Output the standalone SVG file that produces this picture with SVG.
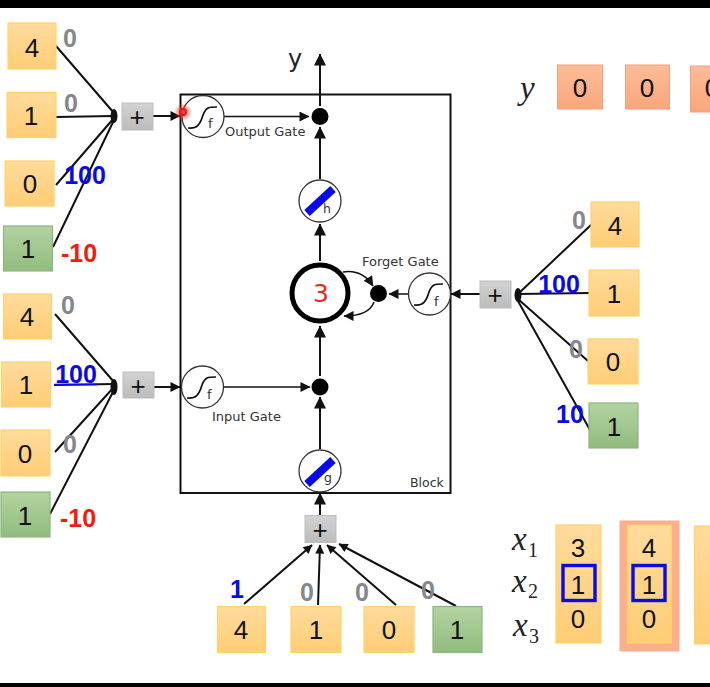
<svg xmlns="http://www.w3.org/2000/svg" width="710" height="687" viewBox="0 0 710 687">
<style>
text{font-family:"DejaVu Sans","Liberation Sans",sans-serif}
.o{fill:url(#og);stroke:#ffd466;stroke-width:1.2}
.gr{fill:url(#gg);stroke:#8fb57f;stroke-width:1.2}
.s{fill:url(#sg);stroke:#f2a27c;stroke-width:1}
.p{fill:url(#pg);stroke:#bdbdbd;stroke-width:1}
.n{font-family:"Liberation Sans",sans-serif;font-size:26px;fill:#111;text-anchor:middle}
.plus{font-family:"Liberation Sans",sans-serif;font-size:26px;fill:#111;text-anchor:middle}
.w{font-family:"Liberation Sans",sans-serif;font-size:25px;font-weight:bold;text-anchor:middle}
.g0{fill:#85878c}.b1{fill:#0a0ae6}.r1{fill:#f21c0c}
.l{stroke:#111;stroke-width:2;fill:none}
.t{stroke:#111;stroke-width:1.5;fill:none}
.c{fill:#fff;stroke:#333;stroke-width:1.3}
.sig{fill:none;stroke:#111;stroke-width:1.7}
.sm{font-size:12.5px;fill:#333}
.ft{font-size:13px;fill:#333}
.m{font-family:"Liberation Serif",serif;font-style:italic;font-size:33px;fill:#222}
.sub{font-family:"Liberation Serif",serif;font-size:20px;fill:#222}
.bb{fill:none;stroke:#0a0ae6;stroke-width:3.4}
.bar{stroke:#0a0ae6;stroke-width:8;fill:none}
</style>
<defs>
<linearGradient id="og" x1="0" y1="0" x2="0" y2="1"><stop offset="0" stop-color="#ffdb9c"/><stop offset="1" stop-color="#ffcd76"/></linearGradient>
<linearGradient id="gg" x1="0" y1="0" x2="0" y2="1"><stop offset="0" stop-color="#b3d3a0"/><stop offset="1" stop-color="#91bc7e"/></linearGradient>
<linearGradient id="sg" x1="0" y1="0" x2="0" y2="1"><stop offset="0" stop-color="#fdbc98"/><stop offset="1" stop-color="#f9a67c"/></linearGradient>
<linearGradient id="pg" x1="0" y1="0" x2="0" y2="1"><stop offset="0" stop-color="#d2d2d2"/><stop offset="1" stop-color="#bcbcbc"/></linearGradient>
<radialGradient id="glow"><stop offset="0.3" stop-color="#ff3a30" stop-opacity=".75"/><stop offset="1" stop-color="#ff3a30" stop-opacity="0"/></radialGradient>
<marker id="a" viewBox="0 0 10 10" refX="9.5" refY="5" markerWidth="14" markerHeight="10" markerUnits="userSpaceOnUse" orient="auto"><path d="M0 0L10 5L0 10z" fill="#111"/></marker>
<marker id="as" viewBox="0 0 10 10" refX="9.5" refY="5" markerWidth="11" markerHeight="9" markerUnits="userSpaceOnUse" orient="auto"><path d="M0 0L10 5L0 10z" fill="#111"/></marker>
<marker id="av" viewBox="0 0 10 10" refX="9.5" refY="5" markerWidth="14" markerHeight="12" markerUnits="userSpaceOnUse" orient="auto"><path d="M0 0L10 5L0 10z" fill="#111"/></marker>
<path id="sigma" d="M-15 11C-6 12 -3 8 0 -2C3 -10 6 -10 14 -10"/>
</defs>
<rect width="710" height="687" fill="#fff"/>
<rect width="710" height="8" fill="#000"/>
<rect y="683" width="710" height="4" fill="#000"/>

<g id="connectors">
<rect x="180.500" y="94.500" width="270" height="398.500" fill="none" stroke="#111" stroke-width="2"/>
<path class="l" d="M56 46L114 113M55 117L114 116M56 185L114 118M53 247L114 120"/>
<ellipse cx="114" cy="116" rx="3.500" ry="7" fill="#111"/>
<path class="l" marker-end="url(#a)" d="M153 116L180 116"/>
<path class="l" d="M55 314L114 382M54 385L114 384M55 452L114 387M50 514L114 390"/>
<ellipse cx="114" cy="387" rx="3.500" ry="8" fill="#111"/>
<path class="l" marker-end="url(#a)" d="M154 387L180 387"/>
<path class="l" d="M592 224L518 294M590 293L518 294M588 361L518 299M590 430L518 301"/>
<ellipse cx="518" cy="295" rx="3.500" ry="7" fill="#111"/>
<path class="l" marker-end="url(#a)" d="M480 294L451 294"/>
<path class="t" marker-end="url(#a)" d="M224 116.500L309 116.500"/>
<path class="t" marker-end="url(#a)" d="M224 387L310 387"/>
<path class="l" marker-end="url(#av)" d="M320 106L320 54"/>
<path class="l" marker-end="url(#av)" d="M320 179L320 127"/>
<path class="l" marker-end="url(#av)" d="M320 261L320 224"/>
<path class="l" marker-end="url(#av)" d="M320 376L320 326"/>
<path class="l" marker-end="url(#av)" d="M320 449L320 397"/>
<path class="l" marker-end="url(#av)" d="M320 515L320 493"/>
<path class="t" marker-end="url(#a)" d="M408 294L389 294"/>
<path class="t" marker-end="url(#a)" d="M343 272C356 270 366 275 373 286"/>
<path class="t" marker-end="url(#a)" d="M374 302C370 313 358 316 344 316"/>
<path class="l" marker-end="url(#as)" d="M244 604L312 545"/>
<path class="l" marker-end="url(#as)" d="M318 605L320 545"/>
<path class="l" marker-end="url(#as)" d="M396 605L327 545"/>
<path class="l" marker-end="url(#as)" d="M456 606L339 544"/>
</g>

<g id="block"><text x="410" y="487" class="ft" style="font-size:12.500px">Block</text></g>

<g id="in1a"><rect class="o" x="8" y="23" width="48" height="46"/><text class="n" x="32" y="57">4</text></g>
<g id="in1b"><rect class="o" x="7" y="92.500" width="49" height="45"/><text class="n" x="31" y="125">1</text></g>
<g id="in1c"><rect class="o" x="5" y="161" width="49" height="45"/><text class="n" x="30" y="193">0</text></g>
<g id="in1d"><rect class="gr" x="3.500" y="226" width="49" height="45"/><text class="n" x="28" y="258">1</text></g>
<text class="w g0" x="70" y="47">0</text><text class="w g0" x="71" y="112">0</text><text class="w b1" x="85" y="184">100</text><text class="w r1" x="79" y="262">-10</text>
<g id="sum1"><rect class="p" x="122" y="103" width="31" height="27"/><text class="plus" x="137" y="126">+</text></g>

<g id="in2a"><rect class="o" x="3.500" y="294" width="48" height="45"/><text class="n" x="27" y="326">4</text></g>
<g id="in2b"><rect class="o" x="1.500" y="362" width="49" height="45"/><text class="n" x="26" y="394">1</text></g>
<g id="in2c"><rect class="o" x="1" y="430" width="49" height="46"/><text class="n" x="25" y="463">0</text></g>
<g id="in2d"><rect class="gr" x="1" y="492" width="49" height="45"/><text class="n" x="25" y="525">1</text></g>
<text class="w g0" x="68" y="314">0</text><text class="w b1" x="76" y="383">100</text><path d="M54 384.500L97 384.500" stroke="#0a0ae6" stroke-width="1.500"/><text class="w g0" x="70" y="453">0</text><text class="w r1" x="78" y="527">-10</text>
<g id="sum2"><rect class="p" x="123" y="372" width="31" height="26"/><text class="plus" x="138" y="395">+</text></g>

<g id="in3a"><rect class="o" x="591" y="202" width="48" height="45"/><text class="n" x="615" y="235">4</text></g>
<g id="in3b"><rect class="o" x="589" y="270" width="50" height="46"/><text class="n" x="614" y="303">1</text></g>
<g id="in3c"><rect class="o" x="588" y="339" width="50" height="45"/><text class="n" x="613" y="371">0</text></g>
<g id="in3d"><rect class="gr" x="589" y="403" width="49" height="45"/><text class="n" x="614" y="436">1</text></g>
<text class="w g0" x="579" y="229">0</text><text class="w b1" x="559" y="293">100</text><text class="w g0" x="576" y="358">0</text><text class="w b1" x="570" y="423">10</text>
<g id="sum3"><rect class="p" x="480" y="281" width="31" height="27"/><text class="plus" x="495" y="304">+</text></g>

<g id="in4a"><rect class="o" x="217.500" y="606.500" width="48" height="46"/><text class="n" x="241" y="639">4</text></g>
<g id="in4b"><rect class="o" x="291" y="606.500" width="50" height="46"/><text class="n" x="316" y="639">1</text></g>
<g id="in4c"><rect class="o" x="364" y="606.500" width="50" height="46"/><text class="n" x="389" y="639">0</text></g>
<g id="in4d"><rect class="gr" x="433" y="606.500" width="49" height="46"/><text class="n" x="457" y="639">1</text></g>
<text class="w b1" x="237" y="598">1</text><text class="w g0" x="307" y="601">0</text><text class="w g0" x="362" y="601">0</text><text class="w g0" x="428" y="599">0</text>
<g id="sum4"><rect class="p" x="305" y="515.500" width="31" height="27"/><text class="plus" x="320" y="539">+</text></g>

<g id="output-activation"><circle class="c" cx="203" cy="116.500" r="21"/><use href="#sigma" class="sig" x="203" y="117"/><text class="sm" x="208" y="128" style="font-size:13px">f</text></g>
<circle cx="183" cy="112" r="9" fill="url(#glow)"/><circle cx="183" cy="112" r="3" fill="none" stroke="#f01010" stroke-width="1.800"/>
<g id="input-activation"><circle class="c" cx="202.500" cy="387" r="21"/><use href="#sigma" class="sig" x="202" y="387"/><text class="sm" x="207" y="399" style="font-size:13px">f</text></g>
<g id="forget-activation"><circle class="c" cx="429.500" cy="294" r="21"/><use href="#sigma" class="sig" x="429" y="294"/><text class="sm" x="434" y="306" style="font-size:13px">f</text></g>
<g id="output-junction"><circle cx="320" cy="116.500" r="8.500" fill="#000"/></g>
<g id="input-junction"><circle cx="320" cy="387" r="8.500" fill="#000"/></g>
<g id="forget-junction"><circle cx="378.500" cy="293.500" r="8.500" fill="#000"/></g>
<g id="h"><circle class="c" cx="320" cy="201" r="21"/><path class="bar" d="M307 213L333 189"/><text class="sm" x="323" y="213">h</text></g>
<g id="g"><circle class="c" cx="320" cy="471" r="21"/><path class="bar" d="M307 484L333 460"/><text class="sm" x="324" y="482">g</text></g>
<g id="cell"><circle cx="320" cy="293" r="28" fill="#fff" stroke="#000" stroke-width="5"/><text x="321" y="302" font-family="'Liberation Sans',sans-serif" font-size="25" fill="#f02818" text-anchor="middle">3</text></g>
<text class="ft" x="225" y="136">Output Gate</text>
<text class="ft" x="362" y="266">Forget Gate</text>
<text class="ft" x="212" y="421">Input Gate</text>
<text x="295" y="67" font-family="'DejaVu Sans',sans-serif" font-size="24" fill="#222" text-anchor="middle">y</text>

<text class="m" x="520" y="99">y</text>
<g id="y1"><rect class="s" x="557.500" y="65" width="45" height="44"/><text class="n" x="580" y="97">0</text></g>
<g id="y2"><rect class="s" x="625.500" y="65" width="44" height="44"/><text class="n" x="647" y="97">0</text></g>
<g id="y3"><rect class="s" x="690.500" y="66" width="30" height="46"/><text class="n" x="712" y="97">0</text></g>

<text class="m" x="512" y="550">x</text><text class="sub" x="528" y="557">1</text>
<text class="m" x="512" y="592">x</text><text class="sub" x="528" y="598">2</text>
<text class="m" x="513" y="636">x</text><text class="sub" x="529" y="643">3</text>
<g id="col1"><rect class="o" x="556" y="525" width="45" height="118"/><text class="n" x="578" y="557">3</text><text class="n" x="578" y="594">1</text><text class="n" x="578" y="628">0</text><rect class="bb" x="563" y="565.500" width="32" height="35"/></g>
<g id="col2"><rect x="619.500" y="520.500" width="60" height="131" fill="#fbaf8c"/><rect class="o" x="627.500" y="525" width="44" height="118"/><text class="n" x="649" y="557">4</text><text class="n" x="649" y="594">1</text><text class="n" x="649" y="628">0</text><rect class="bb" x="633" y="565.500" width="32" height="35"/></g>
<g id="col3"><rect class="o" x="694.500" y="526" width="30" height="118"/><text class="n" x="717" y="594">0</text><text class="n" x="717" y="628">0</text></g>
</svg>
